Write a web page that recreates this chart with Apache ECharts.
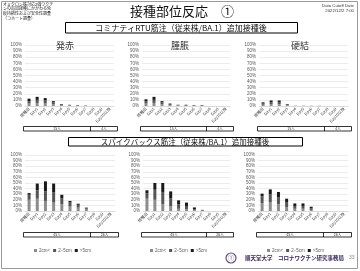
<!DOCTYPE html>
<html><head><meta charset="utf-8">
<script src="https://cdn.jsdelivr.net/npm/echarts@6/dist/echarts.min.js"></script>
<style>html,body{margin:0;padding:0;background:#fff}#c{width:360px;height:271px}</style>
</head><body><div id="c"></div>
<script>
const categories = ["接種日","Day1","Day2","Day3","Day4","Day5","Day6","Day7","Day8","Day9","Day10以降"];
const yTicks = [0,10,20,30,40,50,60,70,80,90,100];
const seriesNames = ["2cm<","2−5cm",">5cm"];
// コミナティ
const comi_redness_small = [4,5,4,3,1,1,0.5,0.5,0,0,0];
const comi_redness_mid   = [4,5,5,3,1,1,1,0.5,0,0,0];
const comi_redness_large = [4,5,4,2,1,0,0,0,0,0,0];
const comi_swelling_small = [4,5,3,1,1,0.5,0.5,0.5,0,0,0];
const comi_swelling_mid   = [4,5,3,2,0.5,1,0.5,0.5,0,0,0];
const comi_swelling_large = [3,5,2,1,0.5,0.5,0.5,0.5,0,0,0];
const comi_induration_small = [2,3,3,1,0.3,0.3,0.3,0.3,0,0,0];
const comi_induration_mid   = [2,3,3,1,0.2,0.2,0.2,0.2,0,0,0];
const comi_induration_large = [2,3,3,1,0,0,0,0,0,0,0];
// スパイクバックス
const spike_redness_small = [20,22,18,15,12,8,6,3,0,0,0];
const spike_redness_mid   = [9,15,17,18,11,7,5,2,0,0,0];
const spike_redness_large = [3,12,18,16,6,3,2,1,0,0,0];
const spike_swelling_small = [22,20,12,8,4,3,1,0.5,0,0,0];
const spike_swelling_mid   = [10,18,22,15,8,6,2,1,0,0,0];
const spike_swelling_large = [5,12,16,12,7,6,3.4,0.5,0,0,0];
const spike_induration_small = [14,16,12,7,4,4,2,0,0,0,0];
const spike_induration_mid   = [12,14,12,8,5,5,2.6,0,0,0,0];
const spike_induration_large = [5,8.6,10,7,4.5,4.5,3,0,0,0,0];
const subTitles = ["発赤","腫脹","硬結"];
const groupTop = ["15人","4人"];
const groupBottom = ["45人","26人"];

const panels = [
  [comi_redness_small,comi_redness_mid,comi_redness_large],
  [comi_swelling_small,comi_swelling_mid,comi_swelling_large],
  [comi_induration_small,comi_induration_mid,comi_induration_large],
  [spike_redness_small,spike_redness_mid,spike_redness_large],
  [spike_swelling_small,spike_swelling_mid,spike_swelling_large],
  [spike_induration_small,spike_induration_mid,spike_induration_large]
];
const colors = ['#8c8c8c','#555555','#1a1a1a'];
const gridPos = [
  {left:25,top:45,width:89,height:61},
  {left:142,top:45,width:88,height:61},
  {left:259,top:45,width:89,height:61},
  {left:25,top:155,width:90,height:56},
  {left:143,top:155,width:87,height:56},
  {left:258,top:155,width:90,height:56}
];
const grids=[],xAxes=[],yAxes=[],series=[];
gridPos.forEach((g,i)=>{
  grids.push(g);
  xAxes.push({type:'category',gridIndex:i,data:categories,
    axisLine:{lineStyle:{color:'#d0d0d0',width:0.6}},axisTick:{show:false},
    axisLabel:{rotate:45,fontSize:4,color:'#404040',margin:2,interval:0,fontFamily:'Noto Sans CJK JP'}});
  yAxes.push({type:'value',gridIndex:i,min:yTicks[0],max:yTicks[yTicks.length-1],interval:yTicks[1]-yTicks[0],
    axisLine:{show:false},axisTick:{show:false},
    axisLabel:{formatter:'{value}%',fontSize:4.5,color:'#595959',margin:3,fontFamily:'Liberation Sans'},
    splitLine:{lineStyle:{color:'#d9d9d9',width:0.5}}});
  panels[i].forEach((d,k)=>{
    series.push({type:'bar',name:seriesNames[k],xAxisIndex:i,yAxisIndex:i,stack:'s'+i,data:d,
      barWidth:3,itemStyle:{color:colors[k]},silent:true});
  });
});
const legends=[{left:29,top:243},{left:145,top:243},{left:262,top:243}].map(p=>({
  left:p.left,top:p.top,data:seriesNames,itemWidth:3,itemHeight:3,itemGap:3,icon:'rect',
  textStyle:{fontSize:4.5,color:'#595959',padding:[0,0,0,-3]},selectedMode:false}));

const chart = echarts.init(document.getElementById('c'),null,{renderer:'canvas'});
chart.setOption({animation:false,grid:grids,xAxis:xAxes,yAxis:yAxes,series:series,legend:legends,color:colors});

const F='Noto Sans CJK JP';
const gr=[];
gr.push({type:'rect',shape:{x:1.5,y:1.5,width:356,height:267},style:{fill:'none',stroke:'#9a9a9a',lineWidth:1},z:0});
gr.push({type:'text',x:3,y:2,style:{text:'オミクロン株対応2価ワクチ\nンの追加接種にかかわる免\n疫持続性および安全性調査\n（コホート調査）',fontSize:4,lineHeight:4.6,fill:'#222',fontFamily:F}});
gr.push({type:'text',x:182,y:11,style:{text:'接種部位反応　①',fontSize:13,fill:'#111',fontFamily:F,align:'center',verticalAlign:'middle'}});
gr.push({type:'text',x:354,y:3,style:{text:'Data Cutoff Date\n2022/12/2 7:00',fontSize:4.3,lineHeight:5,fill:'#333',fontFamily:'Liberation Sans',align:'right'}});
gr.push({type:'rect',shape:{x:65.5,y:22.5,width:232,height:10.5},style:{fill:'#fff',stroke:'#000',lineWidth:1}});
gr.push({type:'text',x:181,y:28,style:{text:'コミナティRTU筋注（従来株/BA.1）追加接種後',fontSize:8,fill:'#111',fontFamily:F,align:'center',verticalAlign:'middle'}});
gr.push({type:'rect',shape:{x:68.5,y:137.5,width:234,height:8.5},style:{fill:'#fff',stroke:'#000',lineWidth:1}});
gr.push({type:'text',x:185,y:142,style:{text:'スパイクバックス筋注（従来株/BA.1）追加接種後',fontSize:7.5,fill:'#111',fontFamily:F,align:'center',verticalAlign:'middle'}});
[65,180,300].forEach((x,i)=>{
  gr.push({type:'text',x:x,y:46,z:10,style:{text:subTitles[i],fontSize:9,fill:'#333',fontFamily:F,align:'center',verticalAlign:'middle',backgroundColor:'#fff',padding:[0,1]}});
});
// group boxes computed from axes
gridPos.forEach((g,i)=>{
  const top = i<3 ? 126.5 : 232.5;
  const labels = i<3 ? groupTop : groupBottom;
  const x7 = chart.convertToPixel({xAxisIndex:i},categories[7]);
  const x8 = chart.convertToPixel({xAxisIndex:i},categories[8]);
  const div = Math.round((x7+x8)/2)+0.5;
  const L = g.left-1.5, R = g.left+g.width+3.5;
  gr.push({type:'rect',shape:{x:L,y:top,width:R-L,height:4.5},style:{fill:'#fff',stroke:'#000',lineWidth:0.8}});
  gr.push({type:'line',shape:{x1:div,y1:top,x2:div,y2:top+4.5},style:{stroke:'#000',lineWidth:0.8}});
  gr.push({type:'text',x:(L+div)/2,y:top+2.4,style:{text:labels[0],fontSize:3.5,fill:'#333',fontFamily:F,align:'center',verticalAlign:'middle'}});
  gr.push({type:'text',x:(div+R)/2,y:top+2.4,style:{text:labels[1],fontSize:3.5,fill:'#333',fontFamily:F,align:'center',verticalAlign:'middle'}});
});
// footer
gr.push({type:'circle',shape:{cx:231,cy:258,r:5},style:{fill:'#fff',stroke:'#6b4c8a',lineWidth:1.2}});
gr.push({type:'text',x:231,y:258,style:{text:'①',fontSize:6,fill:'#6b4c8a',align:'center',verticalAlign:'middle',fontFamily:F}});
gr.push({type:'text',x:245,y:258,style:{text:'順天堂大学　コロナワクチン研究事務局',fontSize:5.5,fontWeight:'bold',fill:'#3a2a5a',fontFamily:F,verticalAlign:'middle'}});
gr.push({type:'text',x:349,y:258,style:{text:'33',fontSize:5,fill:'#888',fontFamily:'Liberation Sans',verticalAlign:'middle'}});
chart.setOption({graphic:gr});
</script></body></html>
